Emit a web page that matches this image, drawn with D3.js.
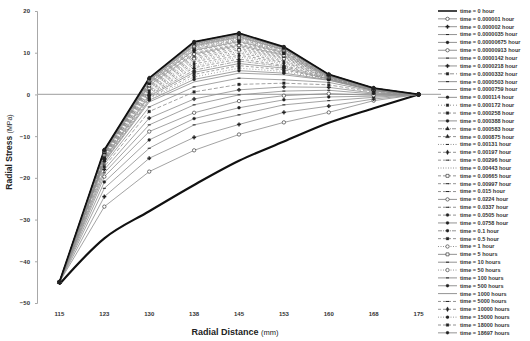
<!DOCTYPE html>
<html>
<head>
<meta charset="utf-8">
<script src="https://cdn.jsdelivr.net/npm/d3@7"></script>
<style>
  body { margin: 0; background: #fff; }
  svg { display: block; font-family: "Liberation Sans", Arial, sans-serif; }
</style>
</head>
<body>
<svg id="chart" width="530" height="341"></svg>
<script>
// radial distance categories (mm) and y ticks
const categories = ["115", "123", "130", "138", "145", "153", "160", "168", "175"];
const yTicks = [20, 10, 0, -10, -20, -30, -40, -50];

const timeLabels = [
  "time = 0 hour", "time = 0.000001 hour", "time = 0.000002 hour", "time = 0.0000035 hour",
  "time = 0.00000675 hour", "time = 0.00000913 hour", "time = 0.0000142 hour", "time = 0.0000218 hour",
  "time = 0.0000332 hour", "time = 0.0000503 hour", "time = 0.0000759 hour", "time = 0.000114 hour",
  "time = 0.000172 hour", "time = 0.000258 hour", "time = 0.000388 hour", "time = 0.000583 hour",
  "time = 0.000875 hour", "time = 0.00131 hour", "time = 0.00197 hour", "time = 0.00296 hour",
  "time = 0.00443 hour", "time = 0.00665 hour", "time = 0.00997 hour", "time = 0.015 hour",
  "time = 0.0224 hour", "time = 0.0337 hour", "time = 0.0505 hour", "time = 0.0758 hour",
  "time = 0.1 hour", "time = 0.5 hour", "time = 1 hour", "time = 5 hours",
  "time = 10 hours", "time = 50 hours", "time = 100 hours", "time = 500 hours",
  "time = 1000 hours", "time = 5000 hours", "time = 10000 hours", "time = 15000 hours",
  "time = 18000 hours", "time = 18697 hours"
];

// radial stress (MPa) per series, one value per category
const stressValues = [
  [-45.5, -34.5, -28.0, -21.7, -15.9, -11.3, -6.8, -3.3, 0],
  [-45, -26.9, -18.5, -13.4, -9.6, -6.7, -4.3, -1.5, 0],
  [-45, -24.5, -15.3, -10.3, -7.2, -4.3, -2.8, -1.1, 0],
  [-45, -22.5, -12.9, -7.3, -4.9, -2.5, -1.5, -0.7, 0],
  [-45, -21.0, -10.9, -5.8, -3.2, -1.3, -0.6, -0.4, 0],
  [-45, -19.7, -8.9, -4.4, -1.6, -0.3, 0.2, -0.2, 0],
  [-45, -18.8, -7.3, -2.5, -0.1, 0.8, 1.0, 0.1, 0],
  [-45, -18.0, -5.7, -1.1, 1.1, 1.8, 1.7, 0.3, 0],
  [-45, -17.3, -4.1, 0.6, 2.4, 2.7, 2.3, 0.5, 0],
  [-45, -16.7, -3.0, 1.8, 3.9, 3.5, 2.9, 0.7, 0],
  [-45, -16.2, -1.8, 3.0, 5.1, 4.7, 3.4, 0.9, 0],
  [-45, -16.0, -1.4, 3.6, 5.7, 5.1, 3.5, 0.9, 0],
  [-45, -15.8, -1.1, 4.2, 6.3, 5.5, 3.6, 1.0, 0],
  [-45, -15.7, -0.8, 4.8, 6.9, 5.9, 3.7, 1.0, 0],
  [-45, -15.5, -0.4, 5.3, 7.4, 6.3, 3.7, 1.0, 0],
  [-45, -15.3, -0.1, 5.8, 8.0, 6.7, 3.8, 1.1, 0],
  [-45, -15.2, 0.2, 6.4, 8.5, 7.0, 3.9, 1.1, 0],
  [-45, -15.0, 0.5, 6.8, 9.0, 7.4, 4.0, 1.1, 0],
  [-45, -14.9, 0.8, 7.3, 9.4, 7.7, 4.0, 1.2, 0],
  [-45, -14.8, 1.0, 7.8, 9.9, 8.0, 4.1, 1.2, 0],
  [-45, -14.6, 1.3, 8.2, 10.3, 8.3, 4.2, 1.2, 0],
  [-45, -14.5, 1.5, 8.6, 10.7, 8.6, 4.2, 1.2, 0],
  [-45, -14.4, 1.8, 9.0, 11.1, 8.9, 4.3, 1.3, 0],
  [-45, -14.3, 2.0, 9.4, 11.5, 9.1, 4.3, 1.3, 0],
  [-45, -14.2, 2.2, 9.7, 11.8, 9.4, 4.4, 1.3, 0],
  [-45, -14.1, 2.4, 10.0, 12.1, 9.6, 4.4, 1.3, 0],
  [-45, -14.0, 2.6, 10.4, 12.5, 9.8, 4.5, 1.4, 0],
  [-45, -13.9, 2.7, 10.6, 12.7, 10.0, 4.5, 1.4, 0],
  [-45, -13.8, 2.9, 10.9, 13.0, 10.2, 4.6, 1.4, 0],
  [-45, -13.7, 3.0, 11.2, 13.3, 10.4, 4.6, 1.4, 0],
  [-45, -13.7, 3.2, 11.4, 13.5, 10.6, 4.6, 1.4, 0],
  [-45, -13.6, 3.3, 11.6, 13.7, 10.7, 4.7, 1.4, 0],
  [-45, -13.5, 3.4, 11.8, 13.9, 10.8, 4.7, 1.4, 0],
  [-45, -13.5, 3.5, 12.0, 14.1, 11.0, 4.7, 1.5, 0],
  [-45, -13.4, 3.6, 12.1, 14.2, 11.1, 4.7, 1.5, 0],
  [-45, -13.4, 3.7, 12.2, 14.3, 11.1, 4.7, 1.5, 0],
  [-45, -13.4, 3.8, 12.4, 14.5, 11.2, 4.8, 1.5, 0],
  [-45, -13.3, 3.8, 12.4, 14.5, 11.3, 4.8, 1.5, 0],
  [-45, -13.3, 3.9, 12.5, 14.6, 11.3, 4.8, 1.5, 0],
  [-45, -13.3, 3.9, 12.6, 14.7, 11.4, 4.8, 1.5, 0],
  [-45, -13.3, 3.9, 12.6, 14.7, 11.4, 4.8, 1.5, 0],
  [-45, -13.3, 3.9, 12.6, 14.7, 11.4, 4.8, 1.5, 0]
];

// line styles (dash pattern + marker) per series, as in the legend
const dashStyles = ["", "", "", "", "", "", "", "", "4,2", "", "", "", "1,2", "3,2", "", "4,1,1,1",
  "3,2", "1,1.5", "3,2", "3,2", "1,1.5", "3,2", "3,2", "3,2", "", "3,2", "3,2", "", "4,1,1,1", "3,2",
  "1,1.5", "", "", "1,1.5", "", "", "", "3,2", "3,2", "1,1.5", "3,2", ""];
const markerStyles = ["none", "circleO", "cross", "dash", "circle", "circleO", "dash", "cross", "square",
  "dash", "none", "circle", "square", "square", "circle", "triangle", "triangle", "dash", "diamond", "dash",
  "none", "squareO", "dash", "dash", "circleO", "dash", "circle", "circle", "circle", "square", "circleO",
  "squareO", "dash", "circleO", "dash", "circle", "none", "dash", "diamond", "circle", "square", "circle"];

const svg = d3.select("#chart");
const margin = {left: 37, right: 441, top: 11, bottom: 303};

const x = d3.scaleBand().domain(categories).range([margin.left, margin.right]);
const xc = c => x(c) + x.bandwidth() / 2;
const y = d3.scaleLinear().domain([-50, 20]).range([margin.bottom, margin.top]);

// y axis
const yAxis = svg.append("g")
    .attr("transform", `translate(${margin.left},0)`)
    .call(d3.axisLeft(y).tickValues(yTicks).tickSize(2).tickPadding(5));
yAxis.select(".domain").attr("stroke", "#a8a8a8");
yAxis.selectAll(".tick line").attr("stroke", "#a8a8a8");
yAxis.selectAll("text").attr("font-size", 6).attr("font-weight", "bold").attr("fill", "#333");

// x labels at bottom
const xAxis = svg.append("g")
    .attr("transform", `translate(0,${margin.bottom})`)
    .call(d3.axisBottom(x).tickSize(0).tickPadding(9));
xAxis.select(".domain").remove();
xAxis.selectAll("text").attr("font-size", 6).attr("font-weight", "bold").attr("fill", "#333");

// zero line
svg.append("line")
    .attr("x1", margin.left).attr("x2", margin.right)
    .attr("y1", y(0)).attr("y2", y(0))
    .attr("stroke", "#b0b0b0").attr("stroke-width", 1.2);

function drawMarker(g, type, cx, cy) {
    if (type === "none") return;
    const open = type.endsWith("O");
    const base = open ? type.slice(0, -1) : type;
    if (base === "dash") {
        g.append("line").attr("x1", cx - 1.5).attr("x2", cx + 1.5).attr("y1", cy).attr("y2", cy)
            .attr("stroke", "#222").attr("stroke-width", 1);
        return;
    }
    const sym = {circle: d3.symbolCircle, square: d3.symbolSquare, diamond: d3.symbolDiamond,
                 triangle: d3.symbolTriangle, cross: d3.symbolCross}[base];
    g.append("path")
        .attr("d", d3.symbol().type(sym).size(open ? 9 : 7)())
        .attr("transform", `translate(${cx},${cy})`)
        .attr("fill", open ? "#fff" : "#222")
        .attr("stroke", "#222").attr("stroke-width", open ? 0.6 : 0.3);
}

const line = d3.line().x((d, i) => xc(categories[i])).y(d => y(d));
const smoothLine = d3.line().x((d, i) => xc(categories[i])).y(d => y(d)).curve(d3.curveMonotoneX);

const plot = svg.append("g");
stressValues.forEach((vals, s) => {
    const last = s === stressValues.length - 1;
    plot.append("path")
        .attr("d", s === 0 ? smoothLine(vals) : line(vals))
        .attr("fill", "none")
        .attr("stroke", s === 0 || last ? "#111" : "#8c8c8c")
        .attr("stroke-width", s === 0 ? 2.2 : (last ? 1.8 : 0.8))
        .attr("stroke-dasharray", dashStyles[s] || null);
});
stressValues.forEach((vals, s) => {
    vals.forEach((v, i) => drawMarker(plot, markerStyles[s], xc(categories[i]), y(v)));
});

// legend
const legend = svg.append("g");
timeLabels.forEach((label, s) => {
    const ly = 11 + s * 7.85;
    legend.append("line")
        .attr("x1", 438).attr("x2", 457).attr("y1", ly).attr("y2", ly)
        .attr("stroke", s === 0 ? "#1a1a1a" : "#777")
        .attr("stroke-width", s === 0 ? 1.6 : 0.8)
        .attr("stroke-dasharray", dashStyles[s] || null);
    drawMarker(legend, markerStyles[s], 447.5, ly);
    legend.append("text")
        .attr("x", 460).attr("y", ly).attr("dy", "0.35em")
        .attr("font-size", 5.5).attr("font-weight", "bold").attr("fill", "#333")
        .text(label);
});

// axis titles
const yTitle = svg.append("text")
    .attr("transform", "translate(12,152) rotate(-90)")
    .attr("text-anchor", "middle").attr("fill", "#222");
yTitle.append("tspan").attr("font-size", 8.5).attr("font-weight", "bold").text("Radial Stress ");
yTitle.append("tspan").attr("font-size", 7).text("(MPa)");

const xTitle = svg.append("text")
    .attr("x", 235).attr("y", 335)
    .attr("text-anchor", "middle").attr("fill", "#222");
xTitle.append("tspan").attr("font-size", 9).attr("font-weight", "bold").text("Radial Distance ");
xTitle.append("tspan").attr("font-size", 7.5).text("(mm)");
</script>
</body>
</html>
